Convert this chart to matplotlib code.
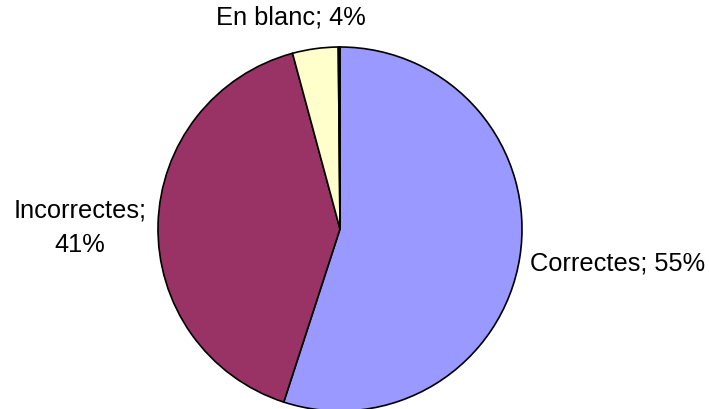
import matplotlib
matplotlib.use("Agg")
import matplotlib.pyplot as plt

categories = ["Correctes", "Incorrectes", "En blanc", ""]
values = [55.0, 40.8, 4.05, 0.15]
label_texts = ["Correctes; 55%", "Incorrectes;\n41%", "En blanc; 4%"]
colors = ["#9999FF", "#993366", "#FFFFCC", "#CCFFFF"]

W, H = 709, 410
fig = plt.figure(figsize=(W / 100, H / 100), dpi=100)
fig.patch.set_facecolor("white")

cx, cy, r = 340, 230, 182
ax = fig.add_axes([(cx - r) / W, (H - cy - r) / H, 2 * r / W, 2 * r / H])
ax.pie(values, colors=colors, startangle=90, counterclock=False, radius=1,
       wedgeprops=dict(edgecolor="black", linewidth=1.2))
ax.set_xlim(-1, 1)
ax.set_ylim(-1, 1)
ax.set_aspect("equal")
ax.axis("off")
for p in ax.patches:
    p.set_clip_on(False)

font = dict(family=["Liberation Sans", "DejaVu Sans"], fontsize=18.3, color="black")
pos = [(530, 263, "left"), (80, 228, "center"), (291, 18, "center")]
for (x, y, ha), t in zip(pos, label_texts):
    fig.text(x / W, 1 - y / H, t, ha=ha, va="center", linespacing=1.55,
             multialignment="center", **font)

fig.savefig("out.png", dpi=100)
